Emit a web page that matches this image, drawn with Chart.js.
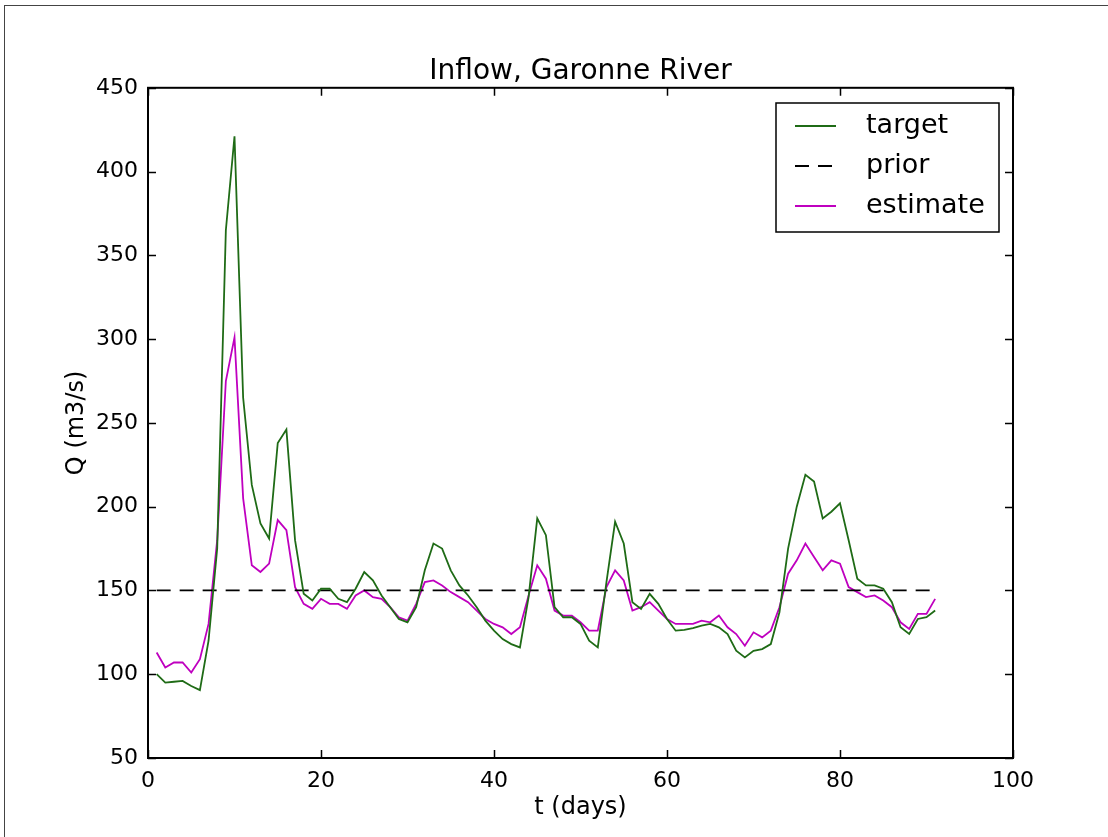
<!DOCTYPE html>
<html>
<head>
<meta charset="utf-8">
<script src="https://cdn.jsdelivr.net/npm/chart.js@4/dist/chart.umd.min.js"></script>
<style>
html, body { margin: 0; padding: 0; background: #fff; }
#frame { position: absolute; left: 4px; top: 5px; width: 1104px; height: 832px; border-left: 1px solid #444; border-top: 1px solid #444; }
canvas { position: absolute; left: 0; top: 0; }
</style>
</head>
<body>
<div id="frame"></div>
<canvas id="chart" width="1108" height="837"></canvas>
<script>
// days 1..91
const days = [1,2,3,4,5,6,7,8,9,10,11,12,13,14,15,16,17,18,19,20,
  21,22,23,24,25,26,27,28,29,30,31,32,33,34,35,36,37,38,39,40,
  41,42,43,44,45,46,47,48,49,50,51,52,53,54,55,56,57,58,59,60,
  61,62,63,64,65,66,67,68,69,70,71,72,73,74,75,76,77,78,79,80,
  81,82,83,84,85,86,87,88,89,90,91];

// débit cible
const target = [100,95,95.5,96,93,90.5,120,175,365,421,
  265,213,190,181,238,246,180,148,144,151,
  151,145,143,151,161,156,147,140,133,131,
  140,162,178,175,162,153,147,140,132,126,
  121,118,116,146,193,183,140,134,134,130,
  120,116,155,191,178,143,139,148,142,133,
  126,126.5,127.5,129,130,128,124,114,110,114,
  115,118,137,175,200,219,215,193,197,202,
  180,157,153,153,151,143,128,124,133,134,
  138];

// estimation
const estimate = [113,104,107,107,101,109,130,180,275,301,
  205,165,161,166,192,186,152,142,139,145,
  142,142,139,147,150,146,145,140,134,132,
  142,155,156,153,149,146,143,138,133,130,
  128,124,128,147,165,157,138,135,135,131,
  126,126,152,162,156,138,140,143,138,133,
  130,130,130,132,131,135,128,124,117,125,
  122,126,140,160,168,178,170,162,168,166,
  152,149,146,147,144,140,131,127,136,136,
  145];

// a priori (constant)
const priorDays = [1, 91];
const priorValues = [150, 150];

const xTicks = [0, 20, 40, 60, 80, 100];
const yTicks = [50, 100, 150, 200, 250, 300, 350, 400, 450];

const FONT = 'DejaVu Sans';

function toPoints(xs, ys) {
  return xs.map((x, i) => ({ x, y: ys[i] }));
}

// ticks vers l'intérieur + cadre
const frameTicks = {
  id: 'frameTicks',
  afterDatasetsDraw(chart) {
    const { ctx, chartArea: a, scales: { x, y } } = chart;
    const len = 8;
    ctx.save();
    ctx.strokeStyle = '#000';
    ctx.lineWidth = 1.5;
    ctx.beginPath();
    xTicks.forEach(v => {
      const px = Math.round(x.getPixelForValue(v)) + 0.5;
      ctx.moveTo(px, a.bottom); ctx.lineTo(px, a.bottom - len);
      ctx.moveTo(px, a.top); ctx.lineTo(px, a.top + len);
    });
    yTicks.forEach(v => {
      const py = Math.round(y.getPixelForValue(v)) + 0.5;
      ctx.moveTo(a.left, py); ctx.lineTo(a.left + len, py);
      ctx.moveTo(a.right, py); ctx.lineTo(a.right - len, py);
    });
    ctx.stroke();
    ctx.lineWidth = 2;
    ctx.strokeRect(a.left, a.top, a.right - a.left, a.bottom - a.top);
    ctx.restore();
  }
};

// légende façon matplotlib
const boxLegend = {
  id: 'boxLegend',
  afterDraw(chart) {
    const { ctx } = chart;
    const x0 = 776, y0 = 103, w = 223, h = 129;
    const rows = [126, 166, 206];
    ctx.save();
    ctx.fillStyle = '#fff';
    ctx.fillRect(x0, y0, w, h);
    ctx.strokeStyle = '#000';
    ctx.lineWidth = 1.5;
    ctx.strokeRect(x0, y0, w, h);
    ctx.font = '27px "' + FONT + '"';
    ctx.textBaseline = 'middle';
    ctx.fillStyle = '#000';
    chart.data.datasets.forEach((ds, i) => {
      const yy = rows[i];
      ctx.strokeStyle = ds.borderColor;
      ctx.lineWidth = ds.borderWidth;
      ctx.setLineDash(ds.borderDash || []);
      ctx.beginPath();
      ctx.moveTo(795, yy); ctx.lineTo(836, yy);
      ctx.stroke();
      ctx.setLineDash([]);
      ctx.fillText(ds.label, 866, yy);
    });
    ctx.restore();
  }
};

new Chart(document.getElementById('chart'), {
  type: 'line',
  data: {
    datasets: [
      { label: 'target', data: toPoints(days, target), borderColor: '#1f6b16', borderWidth: 1.8, pointRadius: 0, tension: 0 },
      { label: 'prior', data: toPoints(priorDays, priorValues), borderColor: '#000', borderWidth: 1.8, borderDash: [14, 9], pointRadius: 0, tension: 0 },
      { label: 'estimate', data: toPoints(days, estimate), borderColor: '#bf00bf', borderWidth: 1.8, pointRadius: 0, tension: 0 }
    ]
  },
  options: {
    responsive: false,
    animation: false,
    devicePixelRatio: 1,
    layout: { padding: { left: 0, right: 95, top: 0, bottom: 0 } },
    plugins: {
      legend: { display: false },
      tooltip: { enabled: false },
      title: {
        display: true,
        fullSize: false,
        text: 'Inflow, Garonne River',
        color: '#000',
        font: { family: FONT, size: 28, weight: 'normal', lineHeight: 1.1 },
        padding: { top: 56, bottom: 1 }
      }
    },
    scales: {
      x: {
        type: 'linear',
        min: 0, max: 100,
        afterFit: s => { s.height = 79; },
        afterBuildTicks: s => { s.ticks = xTicks.map(v => ({ value: v })); },
        grid: { display: false, drawTicks: false },
        border: { display: false },
        ticks: { color: '#000', font: { family: FONT, size: 22 }, padding: 10, maxRotation: 0 },
        title: { display: true, text: 't (days)', color: '#000', font: { family: FONT, size: 24 }, padding: { top: 0, bottom: 15 } }
      },
      y: {
        type: 'linear',
        min: 50, max: 450,
        afterFit: s => { s.width = 148; },
        afterBuildTicks: s => { s.ticks = yTicks.map(v => ({ value: v })); },
        grid: { display: false, drawTicks: false },
        border: { display: false },
        ticks: { color: '#000', font: { family: FONT, size: 22 }, padding: 10 },
        title: { display: true, text: 'Q (m3/s)', color: '#000', font: { family: FONT, size: 24 }, padding: { top: 62, bottom: 0 } }
      }
    }
  },
  plugins: [frameTicks, boxLegend]
});
</script>
</body>
</html>
